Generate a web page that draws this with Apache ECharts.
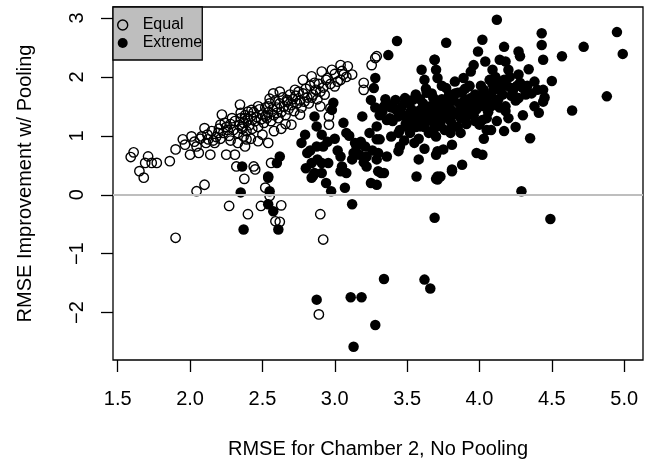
<!DOCTYPE html>
<html>
<head>
<meta charset="utf-8">
<script src="https://cdn.jsdelivr.net/npm/echarts@6/dist/echarts.min.js"></script>
<style>
html,body{margin:0;padding:0;background:#fff;}
#chart{width:648px;height:464px;}
</style>
</head>
<body>
<div id="chart"></div>
<script>
// ---- data ----
var xTicks = [1.5, 2.0, 2.5, 3.0, 3.5, 4.0, 4.5, 5.0];
var yTicks = [-2, -1, 0, 1, 2, 3];
var seriesNames = ['Equal', 'Extreme'];
var xTitle = 'RMSE for Chamber 2, No Pooling';
var yTitle = 'RMSE Improvement w/ Pooling';

var equalPts = [
 [1.61,0.72],[1.59,0.64],[1.65,0.40],[1.68,0.29],[1.69,0.54],[1.71,0.65],[1.735,0.54],[1.77,0.54],
 [1.86,0.57],[1.90,0.77],[1.95,0.94],[1.965,0.85],[2.01,0.99],[2.00,0.68],[2.045,0.82],[2.06,0.71],
 [2.08,0.99],[2.10,1.13],[2.126,0.94],[2.14,0.68],[2.17,0.88],[2.195,1.05],[2.22,1.36],[2.21,1.19],
 [2.24,1.22],[2.25,0.68],[2.26,1.10],[2.29,1.30],[2.31,0.68],[2.32,0.48],[2.345,1.53],[2.36,1.16],
 [2.38,1.30],[2.40,1.41],[2.39,0.94],[2.425,1.44],[2.47,1.50],[2.55,1.63],[2.575,1.72],[2.62,1.75],
 [2.54,1.50],[2.52,1.33],[2.60,1.39],[2.67,1.61],[2.725,1.78],[2.70,1.19],[2.76,1.36],[2.78,1.95],
 [2.84,2.01],[2.86,1.90],[2.91,2.09],[2.94,1.95],[2.98,2.12],[3.04,2.20],[3.06,2.04],[3.09,2.18],
 [3.12,2.04],[3.04,1.95],[3.00,1.84],[2.90,1.75],[2.84,1.65],[2.90,1.50],[2.97,1.47],[2.96,1.33],
 [2.96,1.19],[2.37,0.99],[2.38,0.82],[2.47,0.91],[2.54,0.88],[2.44,0.48],[2.56,0.54],[3.20,1.90],
 [3.20,1.78],[3.255,2.20],[3.28,2.32],[3.29,2.35],[2.35,1.39],
 [2.045,0.06],[2.10,0.17],[1.90,-0.73],[2.27,-0.19],[2.40,-0.33],[2.375,0.27],[2.45,0.43],[2.52,0.12],
 [2.49,-0.19],[2.63,-0.18],[2.59,-0.45],[2.62,-0.46],[2.90,-0.33],[2.92,-0.76],[2.89,-2.03],[2.55,-0.02],
 [2.12,1.02],[2.15,1.08],[2.18,0.98],[2.20,1.12],[2.23,1.05],[2.25,1.15],[2.27,1.00],[2.28,1.20],
 [2.30,1.10],[2.31,1.25],[2.33,1.05],[2.34,1.18],[2.35,1.30],[2.36,1.12],[2.37,1.22],[2.38,1.35],
 [2.39,1.08],[2.40,1.28],[2.41,1.18],[2.42,1.33],[2.43,1.12],[2.44,1.40],[2.45,1.25],[2.46,1.32],
 [2.47,1.15],[2.48,1.45],[2.49,1.28],[2.50,1.36],[2.51,1.22],[2.52,1.48],[2.53,1.30],[2.54,1.40],
 [2.55,1.55],[2.56,1.25],[2.57,1.45],[2.58,1.35],[2.59,1.60],[2.60,1.48],[2.61,1.30],[2.62,1.55],
 [2.63,1.40],[2.64,1.65],[2.65,1.50],[2.66,1.35],[2.67,1.58],[2.68,1.45],[2.69,1.70],[2.70,1.52],
 [2.71,1.62],[2.72,1.42],[2.73,1.68],[2.74,1.55],[2.75,1.75],[2.76,1.60],[2.77,1.48],[2.78,1.72],
 [2.79,1.58],[2.80,1.80],[2.81,1.65],[2.82,1.55],[2.83,1.85],[2.85,1.70],[2.87,1.78],[2.88,1.62],
 [2.89,1.88],[2.92,1.82],[2.93,1.70],[2.95,1.98],[2.97,1.88],[3.00,2.05],[3.02,1.92],[3.05,2.10],
 [3.08,2.00],[2.28,0.92],[2.33,0.88],[2.42,0.95],[2.50,1.02],[2.58,1.08],[2.63,1.12],[2.66,1.20],
 [2.03,0.90],[2.07,0.95],[2.11,0.88],[2.16,0.92],[2.21,0.95]
];

var extremePts = [
 [3.43,2.61],[3.37,2.37],[3.28,1.98],[3.27,1.81],[3.25,1.61],[3.34,1.50],[3.42,1.61],[3.485,1.64],
 [3.60,2.12],[3.62,1.95],[3.69,2.29],[3.635,1.73],[3.54,1.61],[3.19,1.33],[3.29,1.16],[3.36,1.27],
 [3.44,1.33],[3.52,1.39],[3.59,1.44],[3.68,1.39],[3.50,1.16],[3.59,1.16],[3.68,1.10],[3.39,0.99],
 [3.31,0.94],[3.29,0.94],[3.45,0.82],[3.30,0.71],[3.36,0.65],[3.44,0.74],[3.70,0.68],[3.58,0.60],
 [3.73,0.31],[2.99,1.56],[2.98,1.44],[2.86,1.33],[2.875,1.16],[2.795,1.02],[2.91,1.02],[2.77,0.88],
 [2.875,0.82],[2.92,0.82],[2.81,0.71],[2.84,0.54],[2.91,0.54],[2.955,0.54],[2.86,0.37],[2.85,0.32],
 [3.04,0.65],[3.05,0.48],[3.08,0.37],[3.14,0.88],[3.13,0.71],[3.17,0.68],[3.21,0.82],[3.22,0.65],
 [3.22,0.48],[3.29,0.60],[3.30,0.40],[3.34,0.37],[3.06,1.22],[3.08,1.05],[3.15,0.82],[2.62,0.65],
 [2.60,0.54],[2.54,0.31],[2.36,0.48],[3.565,0.31],
 [4.12,2.97],[4.43,2.74],[4.95,2.76],[4.99,2.39],[4.72,2.51],[4.57,2.35],[4.43,2.54],[4.44,2.29],
 [3.77,2.58],[4.02,2.63],[3.99,2.43],[4.17,2.51],[4.27,2.43],[4.28,2.35],[4.14,2.29],[4.18,2.26],
 [3.69,2.29],[3.96,2.20],[4.04,2.26],[4.20,2.12],[4.34,2.13],[4.27,2.04],[3.89,1.98],[3.94,2.09],
 [4.09,2.12],[3.70,2.12],[3.71,1.98],[4.50,1.93],[3.77,1.81],[3.85,1.73],[3.93,1.84],[4.03,1.78],
 [4.10,1.81],[4.14,1.78],[4.22,1.81],[4.30,1.81],[4.31,1.83],[4.40,1.78],[4.44,1.78],[4.27,1.64],
 [4.44,1.58],[4.88,1.67],[4.64,1.43],[4.41,1.39],[4.18,1.50],[4.18,1.42],[4.08,1.50],[3.99,1.56],
 [3.94,1.64],[3.80,1.61],[3.69,1.61],[3.73,1.50],[3.82,1.36],[3.91,1.33],[4.02,1.27],[4.05,1.30],
 [4.00,1.19],[4.05,1.10],[4.17,1.08],[4.35,0.96],[3.87,1.05],[3.80,1.05],[3.71,1.16],[3.70,0.99],
 [3.81,0.85],[3.75,0.77],[3.71,0.74],[3.98,0.71],[4.02,0.68],[3.88,0.51],[3.81,0.43],[3.71,0.31],
 [3.71,0.26],[3.81,0.40],[4.29,0.06],[4.49,-0.41],[3.69,-0.39],
 [2.35,0.04],[2.37,-0.59],[2.54,0.29],[2.55,0.06],[2.54,-0.16],[2.575,-0.28],[2.61,-0.59],
 [2.84,0.29],[2.91,0.37],[2.94,0.20],[2.975,0.06],[3.07,0.12],[3.04,0.40],[3.12,-0.16],[3.25,0.20],
 [3.29,0.17],[3.32,0.37],[3.70,0.27],[3.34,-1.43],[3.62,-1.44],[3.66,-1.59],[2.875,-1.78],[3.11,-1.74],
 [3.185,-1.74],[3.28,-2.21],[3.13,-2.58],
 [3.40,1.25],[3.42,1.45],[3.45,1.10],[3.47,1.35],[3.48,1.55],[3.50,1.30],[3.52,1.05],[3.53,1.45],
 [3.55,1.25],[3.56,1.70],[3.57,1.40],[3.58,0.95],[3.60,1.30],[3.61,1.55],[3.62,1.15],[3.63,1.80],
 [3.64,1.35],[3.65,1.05],[3.66,1.50],[3.67,1.25],[3.68,1.65],[3.70,1.35],[3.72,1.45],[3.73,1.20],
 [3.74,1.85],[3.75,1.40],[3.76,1.10],[3.77,1.55],[3.78,1.30],[3.79,1.70],[3.80,1.45],[3.81,1.20],
 [3.82,1.60],[3.83,1.92],[3.84,1.40],[3.85,1.15],[3.86,1.55],[3.87,1.30],[3.88,1.75],[3.89,1.48],
 [3.90,1.62],[3.91,1.20],[3.92,1.40],[3.93,1.85],[3.95,1.55],[3.96,1.35],[3.97,1.70],[3.98,1.45],
 [4.00,1.60],[4.01,1.85],[4.03,1.50],[4.05,1.65],[4.06,1.40],[4.07,1.95],[4.08,1.70],[4.10,1.55],
 [4.11,2.00],[4.12,1.80],[4.13,1.62],[4.15,1.90],[4.16,1.70],[4.19,1.85],[4.21,2.00],[4.23,1.75],
 [4.25,1.60],[4.28,1.90],[4.33,1.85],[4.36,1.72],[3.33,1.42],[3.36,1.55],[3.38,1.30],[3.39,1.48],
 [3.00,0.95],[3.02,0.75],[3.10,1.00],[3.12,0.60],[3.18,0.90],[3.24,1.05],[3.26,0.75],[3.20,0.55],
 [2.95,0.90],[2.88,0.60],[2.83,0.75],[2.80,0.45],[4.03,0.95],[4.08,1.10],[4.12,1.25],[4.20,1.30],
 [4.25,1.15],[4.30,1.35],[4.38,1.50],[4.45,1.65],
 [3.46,1.48],[3.49,1.20],[3.51,1.60],[3.54,1.35],[3.56,1.15],[3.59,1.62],[3.62,1.42],[3.65,1.28],
 [3.67,1.72],[3.69,1.48],[3.72,1.30],[3.74,1.62],[3.78,1.50],[3.80,1.25],[3.83,1.72],[3.86,1.38],
 [3.90,1.80],[3.94,1.50],[3.97,1.25],[4.02,1.72],[4.06,1.55],[4.09,1.88],[4.14,1.48],[4.17,1.95],
 [4.22,1.68],[4.26,1.85],[4.32,1.70],[4.38,1.92],[3.31,1.35],[3.35,1.62],[3.28,1.48],[3.44,1.05],
 [3.55,0.88],[3.62,0.78],[3.48,0.92]
];

// ---- chart ----
var FONT = '"Liberation Sans", Arial, Helvetica, sans-serif';
var chart = echarts.init(document.getElementById('chart'), null, {renderer: 'canvas'});
var option = {
  animation: false,
  backgroundColor: '#fff',
  textStyle: {fontFamily: FONT, color: '#000'},
  grid: {left: 113, top: 7, width: 530, height: 354, show: true, borderColor: '#000', borderWidth: 1.3, backgroundColor: 'transparent'},
  legend: {
    left: 113, top: 7, orient: 'vertical',
    backgroundColor: '#bebebe', borderColor: '#000', borderWidth: 1.3, borderRadius: 0,
    padding: [10, 0, 9, 4], itemGap: 2, itemWidth: 20, itemHeight: 10,
    textStyle: {fontFamily: FONT, fontSize: 16, color: '#000', padding: [0, 0, 0, 5], lineHeight: 16},
    data: [
      {name: seriesNames[0], icon: 'circle', itemStyle: {color: 'rgba(0,0,0,0)', borderColor: '#000', borderWidth: 1.4}},
      {name: seriesNames[1], icon: 'circle', itemStyle: {color: '#000', borderWidth: 0}}
    ],
    selectedMode: false
  },
  xAxis: {
    type: 'value', min: 1.4675, max: 5.13,
    name: xTitle, nameLocation: 'middle', nameGap: 79,
    nameTextStyle: {fontFamily: FONT, fontSize: 20, color: '#000'},
    axisLine: {show: false, onZero: false},
    axisTick: {show: true, length: 12, inside: false, customValues: xTicks, lineStyle: {color: '#000', width: 1.3}},
    axisLabel: {show: true, customValues: xTicks, margin: 29, fontFamily: FONT, fontSize: 20, color: '#000',
      formatter: function (v) { return v.toFixed(1); }},
    splitLine: {show: false}
  },
  yAxis: {
    type: 'value', min: -2.804, max: 3.186,
    name: yTitle, nameLocation: 'middle', nameGap: 78, nameRotate: 90,
    nameTextStyle: {fontFamily: FONT, fontSize: 20, color: '#000'},
    axisLine: {show: false, onZero: false},
    axisTick: {show: true, length: 12, inside: false, customValues: yTicks, lineStyle: {color: '#000', width: 1.3}},
    axisLabel: {show: true, customValues: yTicks, rotate: 90, margin: 26, fontFamily: FONT, fontSize: 20, color: '#000',
      formatter: function (v) { return String(v).replace('-', '\u2212'); }},
    splitLine: {show: false}
  },
  series: [
    {
      name: seriesNames[0], type: 'scatter', symbol: 'circle', symbolSize: 9.4,
      itemStyle: {color: 'rgba(0,0,0,0)', borderColor: '#000', borderWidth: 1.4, opacity: 1},
      data: equalPts, z: 3,
      markLine: {
        silent: true, symbol: ['none', 'none'], label: {show: false},
        lineStyle: {color: '#bebebe', width: 2, type: 'solid'},
        data: [{yAxis: 0}]
      }
    },
    {
      name: seriesNames[1], type: 'scatter', symbol: 'circle', symbolSize: 10.5,
      itemStyle: {color: '#000', borderWidth: 0, opacity: 1},
      data: extremePts, z: 4
    }
  ]
};
chart.setOption(option);
</script>
</body>
</html>
